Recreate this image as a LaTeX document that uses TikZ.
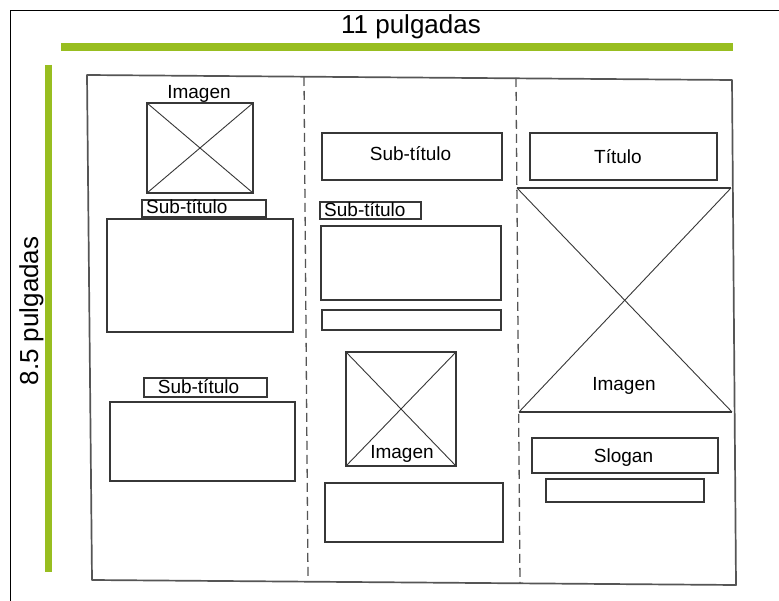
\documentclass[tikz,border=0pt]{standalone}
\usepackage{fontspec}
\setmainfont{Liberation Sans}
\definecolor{barGreen}{RGB}{152,190,32}
\definecolor{boxGray}{RGB}{55,55,55}
\definecolor{sheetGray}{RGB}{85,85,85}
\begin{document}
\begin{tikzpicture}[x=1pt,y=-1pt,
  box/.style={draw=boxGray, line width=1.3pt, rectangle, inner sep=0pt, outer sep=0pt},
  xline/.style={draw=boxGray, line width=0.9pt},
  lbl/.style={font=\fontsize{19}{22}\selectfont, inner sep=0pt, text=black},
  bigtxt/.style={font=\fontsize{26}{30}\selectfont, inner sep=0pt, text=black},
  sheet/.style={draw=sheetGray, line width=1.7pt, line join=round},
  fold/.style={draw=sheetGray, line width=1.3pt, dash pattern=on 9pt off 5pt},
  greenbar/.style={draw=barGreen, line width=8pt},
  frame/.style={draw=black, line width=1pt}]
\useasboundingbox (0,0) rectangle (779,601);
\fill[white] (0,0) rectangle (779,601);
% outer frame
\coordinate (fTL) at (10.5,10.5);
\coordinate (fTR) at (779,10.5);
\coordinate (fBL) at (10.5,601);
\draw[frame] (fTR) -- (fTL) -- (fBL);
% green measuring bars
\coordinate (hbL) at (61,47);
\coordinate (hbR) at (733,47);
\coordinate (vbT) at (48.5,65);
\coordinate (vbB) at (48.5,572);
\draw[greenbar] (hbL) -- (hbR);
\draw[greenbar, line width=7pt] (vbT) -- (vbB);
\node[bigtxt, anchor=base] (wlbl) at (411,34) {11 pulgadas};
\node[bigtxt, anchor=base, rotate=90] (hlbl) at (38,311) {8.5 pulgadas};
% sheet
\coordinate (sTL) at (87,75);
\coordinate (sTR) at (732,80);
\coordinate (sBR) at (736,585);
\coordinate (sBL) at (92,580);
\draw[sheet] (sTL) -- (sTR) -- (sBR) -- (sBL) -- cycle;
% folds
\coordinate (d1t) at (304,77);
\coordinate (d1b) at (308,580);
\coordinate (d2t) at (516,78);
\coordinate (d2b) at (520,583);
\draw[fold] (d1t) -- (d1b);
\draw[fold] (d2t) -- (d2b);
% ---------- left panel
\node[lbl, anchor=base] (limgT) at (199,99) {Imagen};
\node[box, minimum width=106pt, minimum height=90pt] (limg) at (200,148) {};
\draw[xline] (limg.north west) -- (limg.south east);
\draw[xline] (limg.north east) -- (limg.south west);
\node[box, minimum width=124pt, minimum height=17pt] (lsub1) at (204,208.5) {};
\node[lbl, anchor=base west] (lsub1T) at (146,214) {Sub-título};
\node[box, minimum width=186pt, minimum height=113pt] (lrect1) at (200,275.5) {};
\node[box, minimum width=123pt, minimum height=19pt] (lsub2) at (205.5,387.5) {};
\node[lbl, anchor=base] (lsub2T) at (198.5,394) {Sub-título};
\node[box, minimum width=185pt, minimum height=79pt] (lrect2) at (202.5,441.5) {};
% ---------- middle panel
\node[box, minimum width=180pt, minimum height=47pt] (msub1) at (412,156.5) {};
\node[lbl, anchor=base] (msub1T) at (410.5,161) {Sub-título};
\node[box, minimum width=101pt, minimum height=17pt] (msub2) at (370.5,210.5) {};
\node[lbl, anchor=base west] (msub2T) at (324,217) {Sub-título};
\node[box, minimum width=180pt, minimum height=74pt] (mrect1) at (411,263) {};
\node[box, minimum width=179pt, minimum height=20pt] (mthin) at (411.5,320) {};
\node[box, minimum width=110pt, minimum height=114pt] (mimg) at (401,409) {};
\draw[xline] (mimg.north west) -- (mimg.south east);
\draw[xline] (mimg.north east) -- (mimg.south west);
\node[lbl, anchor=base] (mimgT) at (402,458) {Imagen};
\node[box, minimum width=178pt, minimum height=59pt] (mrect2) at (414,512.5) {};
% ---------- right panel
\node[box, minimum width=187pt, minimum height=47pt] (rtit) at (623.5,156.5) {};
\node[lbl, anchor=base] (rtitT) at (618,164) {Título};
\coordinate (bTL) at (517,188);
\coordinate (bTR) at (731,188);
\coordinate (bBL) at (519,412);
\coordinate (bBR) at (732,412);
\draw[box] (bTL) -- (bTR);
\draw[box] (bBL) -- (bBR);
\draw[xline] (bTL) -- (bBR);
\draw[xline] (bTR) -- (bBL);
\node[lbl, anchor=base] (rimgT) at (624,391) {Imagen};
\node[box, minimum width=186pt, minimum height=35pt] (rslog) at (625,455.5) {};
\node[lbl, anchor=base] (rslogT) at (623.5,462) {Slogan};
\node[box, minimum width=158pt, minimum height=23pt] (rthin) at (625,490.5) {};
\end{tikzpicture}
\end{document}
